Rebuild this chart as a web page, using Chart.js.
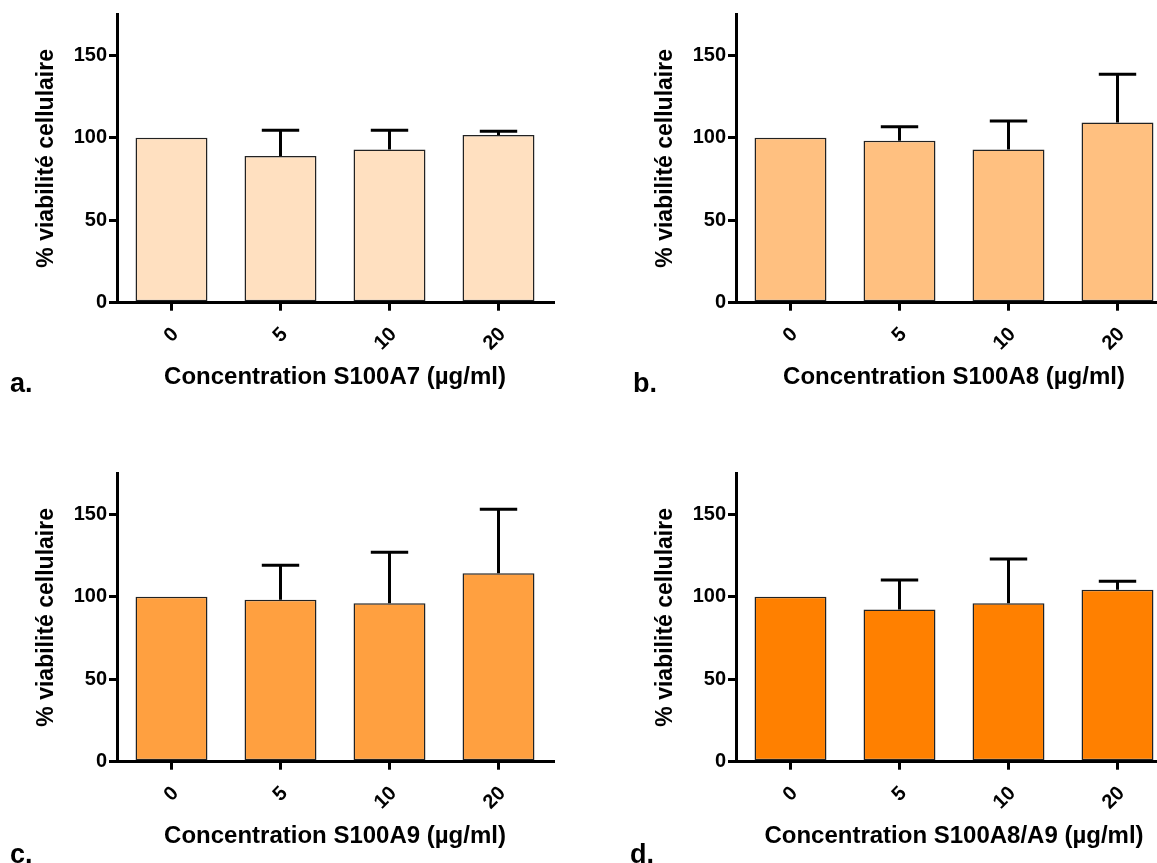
<!DOCTYPE html>
<html>
<head>
<meta charset="utf-8">
<script src="https://cdn.jsdelivr.net/npm/chart.js@4.4.1/dist/chart.umd.min.js"></script>
<style>
  html, body { margin: 0; padding: 0; background: #fff; overflow: hidden; }
  #wrap { position: relative; width: 1157px; height: 863px; overflow: hidden; background: #fff; }
  canvas { position: absolute; }
  .lbl { position: absolute; font-family: "Liberation Sans", Arial, sans-serif; font-weight: bold; font-size: 27px; line-height: 27px; color: #000; }
</style>
</head>
<body>
<div id="wrap">
  <canvas id="ca" width="580" height="430" style="left:0px;top:0px;width:580px;height:430px"></canvas>
  <canvas id="cb" width="580" height="430" style="left:619px;top:0px;width:580px;height:430px"></canvas>
  <canvas id="cc" width="580" height="430" style="left:0px;top:459px;width:580px;height:430px"></canvas>
  <canvas id="cd" width="580" height="430" style="left:619px;top:459px;width:580px;height:430px"></canvas>
  <div class="lbl" style="left:10px;top:370px">a.</div>
  <div class="lbl" style="left:633px;top:370px">b.</div>
  <div class="lbl" style="left:10px;top:841px">c.</div>
  <div class="lbl" style="left:630px;top:841px">d.</div>
</div>
<script>
// ---- data ----
const categories = ['0', '5', '10', '20'];
const yTicks = [0, 50, 100, 150];
const yTitle = '% viabilité cellulaire';

const titleA = 'Concentration S100A7 (µg/ml)';
const meanA = [100, 89.0, 92.9, 101.6];
const sdA   = [0, 15.6, 11.7, 2.4];

const titleB = 'Concentration S100A8 (µg/ml)';
const meanB = [100, 98.1, 92.9, 109.2];
const sdB   = [0, 8.5, 17.3, 29.3];

const titleC = 'Concentration S100A9 (µg/ml)';
const meanC = [100, 98.1, 96.1, 114.3];
const sdC   = [0, 21.0, 30.9, 38.8];

const titleD = 'Concentration S100A8/A9 (µg/ml)';
const meanD = [100, 92.3, 96.1, 104.2];
const sdD   = [0, 17.8, 26.7, 5.2];

// ---- style ----
const FONT = '"Liberation Sans", Arial, sans-serif';

const errorBars = {
  id: 'errorBars',
  afterDatasetsDraw(chart, args, opts) {
    const ctx = chart.ctx;
    const y = chart.scales.y;
    const meta = chart.getDatasetMeta(0);
    const vals = chart.data.datasets[0].data;
    ctx.save();
    ctx.strokeStyle = '#000';
    ctx.lineWidth = 3;
    ctx.lineCap = 'butt';
    meta.data.forEach((bar, i) => {
      const e = opts.sd[i];
      if (!e) return;
      const yBar = y.getPixelForValue(vals[i]);
      const yTop = y.getPixelForValue(vals[i] + e);
      const half = bar.width * 0.26;
      ctx.beginPath();
      ctx.moveTo(bar.x, yBar);
      ctx.lineTo(bar.x, yTop);
      ctx.moveTo(bar.x - half, yTop);
      ctx.lineTo(bar.x + half, yTop);
      ctx.stroke();
    });
    ctx.restore();
  }
};

function axisGrid() {
  return { display: true, offset: false, drawOnChartArea: false, drawTicks: true,
           tickLength: 8, tickWidth: 3, tickColor: '#000', lineWidth: 3, color: '#000' };
}

function makeChart(id, title, means, sds, color) {
  return new Chart(document.getElementById(id), {
    type: 'bar',
    data: {
      labels: categories,
      datasets: [{
        data: means,
        backgroundColor: color,
        borderColor: '#222',
        borderWidth: 1.5,
        borderSkipped: false,
        barPercentage: 0.66,
        categoryPercentage: 1
      }]
    },
    options: {
      responsive: false,
      animation: false,
      devicePixelRatio: 1,
      layout: { padding: { left: 0, top: 14, right: 27, bottom: 0 } },
      plugins: {
        legend: { display: false },
        tooltip: { enabled: false },
        errorBars: { sd: sds }
      },
      scales: {
        x: {
          type: 'category',
          offset: true,
          z: 1,
          grid: axisGrid(),
          border: { display: true, width: 3, color: '#000' },
          ticks: { color: '#000', font: { family: FONT, size: 20, weight: 'bold' },
                   minRotation: 45, maxRotation: 45, padding: 12, labelOffset: 4, autoSkip: false },
          title: { display: true, text: title, color: '#000',
                   font: { family: FONT, size: 24, weight: 'bold' },
                   padding: { top: 0, bottom: 38 } },
          afterFit: s => { s.height = 127.3; }
        },
        y: {
          min: 0,
          max: 175,
          z: 1,
          grid: axisGrid(),
          border: { display: true, width: 3, color: '#000' },
          afterBuildTicks: s => { s.ticks = yTicks.map(v => ({ value: v })); },
          ticks: { color: '#000', font: { family: FONT, size: 20, weight: 'bold' }, padding: 2 },
          title: { display: true, text: yTitle, color: '#000',
                   font: { family: FONT, size: 23, weight: 'bold' },
                   padding: { top: 33, bottom: 0 } },
          afterFit: s => { s.width = 117; }
        }
      }
    },
    plugins: [errorBars]
  });
}

makeChart('ca', titleA, meanA, sdA, '#FFE0C0');
makeChart('cb', titleB, meanB, sdB, '#FFC080');
makeChart('cc', titleC, meanC, sdC, '#FFA040');
makeChart('cd', titleD, meanD, sdD, '#FF8000');
</script>
</body>
</html>
